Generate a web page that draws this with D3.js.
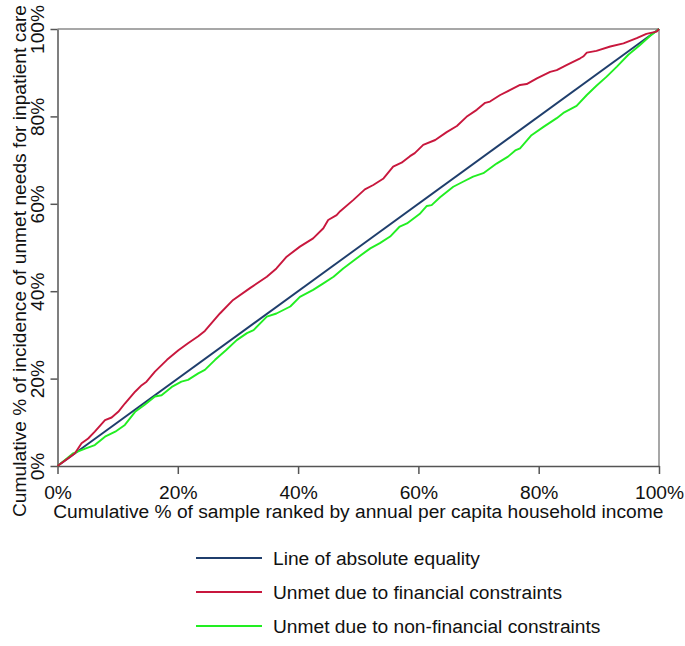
<!DOCTYPE html>
<html><head><meta charset="utf-8">
<script src="https://cdn.jsdelivr.net/npm/d3@7"></script>
<style>body{margin:0;background:#fff}svg{display:block;font-family:"Liberation Sans",Arial,sans-serif}</style>
</head><body><svg id="c" width="685" height="646"></svg>
<script>
const tickValues = [0, 20, 40, 60, 80, 100];
const equalityX = [0, 100];
const equalityY = [0, 100];
const financialX = [0,1.8,2.9,4.0,5.1,6.2,7.9,9.0,10.1,11.2,12.9,14.0,14.8,16.2,18.2,20.1,21.7,23.4,24.5,27.0,29.2,32.0,34.8,36.4,38.1,40.3,42.5,44.2,45.0,46.4,47.0,49.2,51.1,52.5,54.2,55.8,57.2,58.6,59.4,60.8,62.8,64.7,66.4,68.0,69.7,71.1,71.9,73.6,75.2,76.9,78.0,79.7,81.9,83.0,84.7,86.9,87.4,88.0,89.6,91.9,94.1,96.3,97.9,99.6,100];
const financialY = [0,1.8,2.9,5.2,6.3,7.85,10.5,11.1,12.4,14.3,17.0,18.5,19.3,21.6,24.3,26.5,28.1,29.7,30.9,34.9,38.0,40.7,43.3,45.2,47.9,50.2,52.1,54.4,56.3,57.4,58.3,60.9,63.3,64.3,65.8,68.5,69.4,70.9,71.6,73.5,74.6,76.4,77.8,79.9,81.5,83.1,83.4,84.9,86.0,87.2,87.4,88.7,90.2,90.6,91.8,93.3,93.7,94.6,95.0,96.0,96.7,97.9,98.9,99.4,100];
const nonFinancialX = [0,1.25,2.6,4.6,6.2,7.9,9.6,11.2,12.9,14.5,16.2,17.3,19.0,20.6,21.7,23.4,24.5,26.2,28.0,29.8,31.5,32.6,34.8,36.4,38.7,40.3,42.5,44.2,45.9,47.5,48.1,49.7,52.0,53.6,55.3,56.9,58.1,60.3,61.4,62.2,63.6,65.8,67.5,69.1,70.8,73.0,74.9,76.1,76.9,78.8,80.8,83.0,84.1,86.3,88.0,89.6,91.3,93.0,94.9,96.8,98.5,100];
const nonFinancialY = [0,1.4,2.9,4.0,4.8,6.7,7.85,9.4,12.4,14.0,15.9,16.2,18.1,19.3,19.7,21.2,22.0,24.3,26.5,28.8,30.4,31.1,34.2,34.9,36.5,38.7,40.3,41.8,43.3,45.2,45.8,47.5,49.8,51.0,52.5,54.8,55.5,57.8,59.5,59.7,61.5,63.9,65.1,66.2,67.0,69.2,70.8,72.2,72.7,75.7,77.6,79.6,80.8,82.4,84.9,87.0,89.1,91.4,94.1,96.3,98.4,100];
const seriesNames = ["Line of absolute equality", "Unmet due to financial constraints", "Unmet due to non-financial constraints"];
const seriesColors = ["#1f3e6c", "#c8173d", "#22ee22"];
const xTitle = "Cumulative % of sample ranked by annual per capita household income";
const yTitle = "Cumulative % of incidence of unmet needs for inpatient care";

const svg = d3.select("#c");
const L = 57.5, R = 659, T = 29, B = 466;
const FS = 19.2;
const x = d3.scaleLinear().domain([0, 100]).range([L, R]);
const y = d3.scaleLinear().domain([0, 100]).range([B, T]);
const fmt = d => d + "%";

svg.append("line").attr("x1", L).attr("x2", R).attr("y1", T).attr("y2", T).attr("stroke", "#8a8a8a").attr("stroke-width", 1.5);
svg.append("line").attr("x1", R).attr("x2", R).attr("y1", T).attr("y2", B).attr("stroke", "#8a8a8a").attr("stroke-width", 1.5);

const xa = svg.append("g").attr("transform", `translate(0,${B})`)
  .call(d3.axisBottom(x).tickValues(tickValues).tickFormat(fmt).tickSize(8).tickSizeOuter(0));
xa.selectAll("text").attr("font-size", FS).attr("fill", "#111").attr("dy", null).attr("y", 33);
const ya = svg.append("g").attr("transform", `translate(${L},0)`)
  .call(d3.axisLeft(y).tickValues(tickValues).tickFormat(fmt).tickSize(7).tickSizeOuter(0));
ya.selectAll("text").attr("font-size", FS).attr("fill", "#111")
  .attr("text-anchor", "middle").attr("dy", null).attr("x", null)
  .attr("transform", "translate(-14,0) rotate(-90)");
[xa, ya].forEach(g => { g.select(".domain").attr("stroke", "#555").attr("stroke-width", 1.5); g.selectAll(".tick line").attr("stroke", "#555").attr("stroke-width", 1.5); });

svg.append("text").attr("x", (L + R) / 2).attr("y", 518).attr("text-anchor", "middle").attr("font-size", FS).attr("fill", "#111").text(xTitle);
svg.append("text").attr("transform", "translate(26,261) rotate(-90)").attr("text-anchor", "middle").attr("font-size", FS).attr("fill", "#111").text(yTitle);

const line = d3.line().x(d => x(d[0])).y(d => y(d[1]));
const sets = [d3.zip(equalityX, equalityY), d3.zip(financialX, financialY), d3.zip(nonFinancialX, nonFinancialY)];
[0, 2, 1].forEach(i => {
  svg.append("path").attr("d", line(sets[i])).attr("fill", "none").attr("stroke", seriesColors[i]).attr("stroke-width", 1.9).attr("stroke-linejoin", "round");
});

const ly = [558, 592, 626];
seriesNames.forEach((n, i) => {
  svg.append("line").attr("x1", 196).attr("x2", 262).attr("y1", ly[i]).attr("y2", ly[i]).attr("stroke", seriesColors[i]).attr("stroke-width", 1.9);
  svg.append("text").attr("x", 273).attr("y", ly[i] + 6.5).attr("font-size", FS).attr("fill", "#111").text(n);
});
</script></body></html>
